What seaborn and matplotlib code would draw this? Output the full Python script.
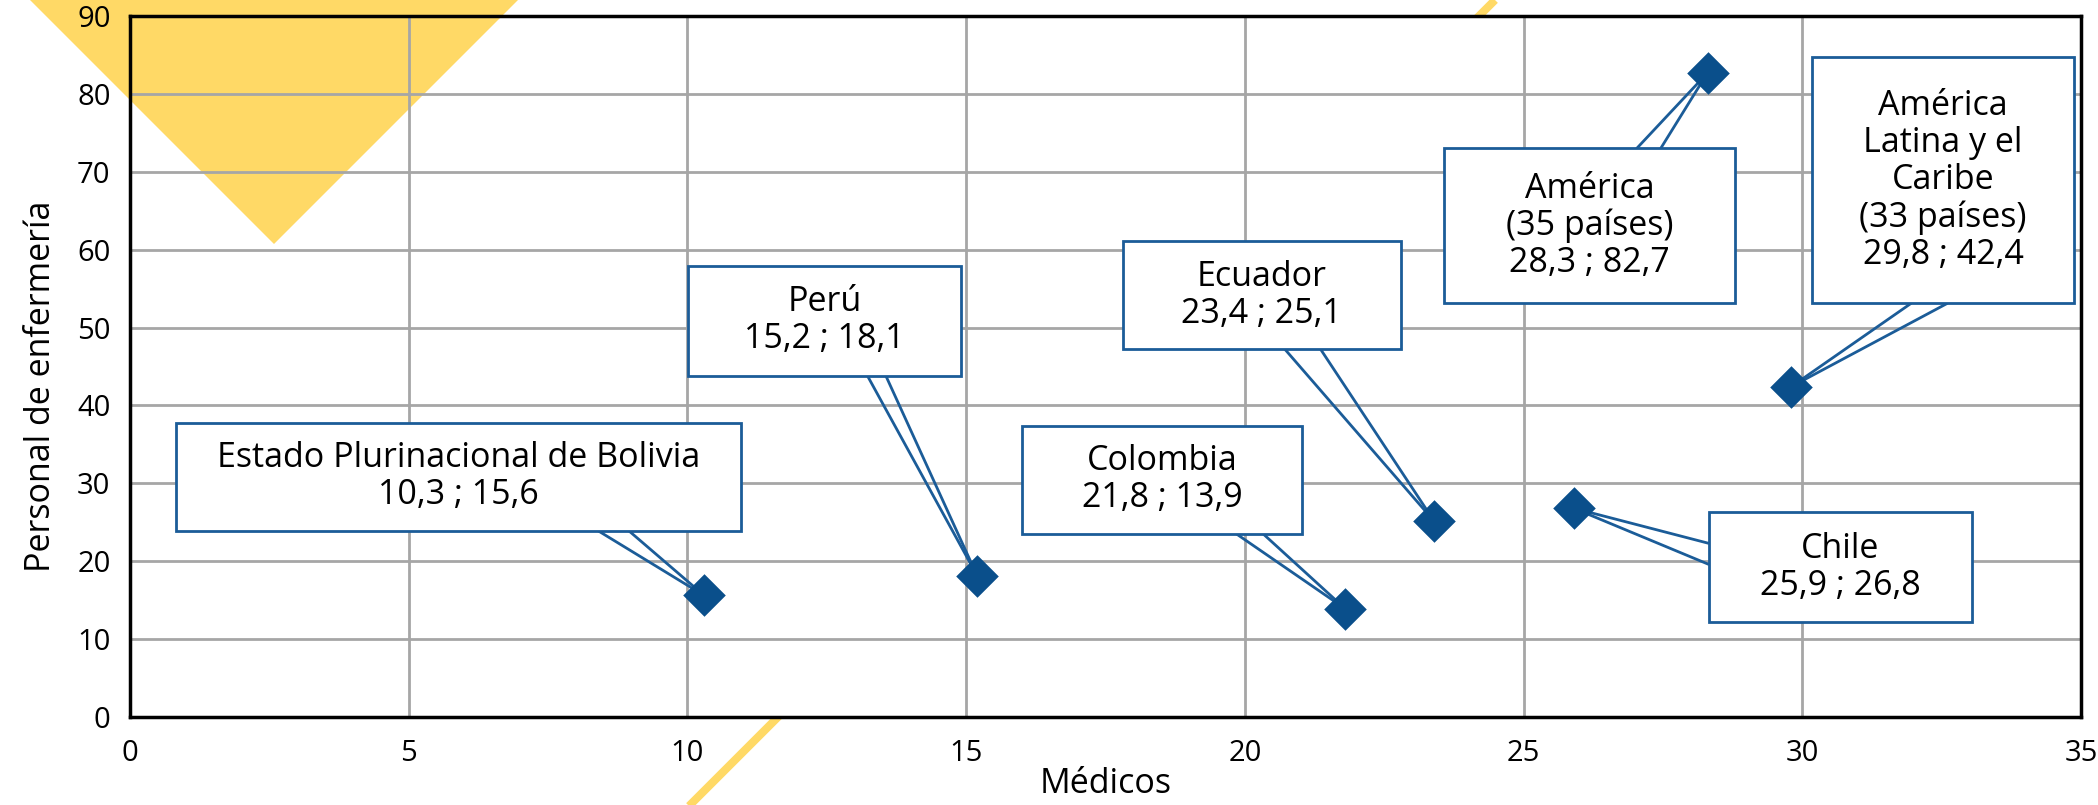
import numpy as np
import pandas as pd
import matplotlib
matplotlib.use("Agg")
import matplotlib.pyplot as plt
from matplotlib.patches import Polygon, Rectangle
from matplotlib.lines import Line2D
import seaborn as sns

# Data: physicians and nursing staff per 10 000 inhabitants
names = ["Estado Plurinacional de Bolivia", "Perú", "Colombia", "Ecuador",
         "Chile", "América\n(35 países)", "América\nLatina y el\nCaribe\n(33 países)"]
medicos = [10.3, 15.2, 21.8, 23.4, 25.9, 28.3, 29.8]
enfermeria = [15.6, 18.1, 13.9, 25.1, 26.8, 82.7, 42.4]
x_ticks = [0, 5, 10, 15, 20, 25, 30, 35]
y_ticks = [0, 10, 20, 30, 40, 50, 60, 70, 80, 90]

# Callout layout: box (x0, x1, y0, y1) in data units, and the two leader anchors on its edge
boxes = [(0.82, 10.97, 23.9, 37.8), (10.01, 14.91, 43.8, 57.9), (16.01, 21.03, 23.5, 37.4),
         (17.81, 22.80, 47.2, 61.1), (28.32, 33.05, 12.2, 26.3), (23.57, 28.80, 53.1, 73.0),
         (30.17, 34.88, 53.1, 84.7)]
anchors = [((8.40, 23.9), (8.95, 23.9)), ((13.23, 43.8), (13.56, 43.8)),
           ((19.85, 23.5), (20.33, 23.5)), ((20.72, 47.2), (21.36, 47.2)),
           ((28.32, 22.3), (28.32, 19.6)), ((27.03, 73.0), (27.46, 73.0)),
           ((31.95, 53.1), (32.60, 53.1))]

BLUE_MARK = "#0A4F8B"
BLUE_EDGE = "#1B5C98"
GOLD = "#FFD966"
GRID = "#A6A6A6"

sns.set_theme(style="white")
plt.rcParams["font.family"] = ["Open Sans", "DejaVu Sans"]

W, H = 2098, 805
fig = plt.figure(figsize=(W / 100, H / 100), dpi=100)
fig.patch.set_facecolor("white")

# Decorative diagonal stripe behind the plot area
stripe = Line2D([1495 / W, 640 / W], [1 - 0 / H, 1 - 855 / H], transform=fig.transFigure,
                color=GOLD, linewidth=5.8, solid_capstyle="butt", zorder=-5)
fig.add_artist(stripe)

ax = fig.add_axes([130 / W, 1 - 717 / H, (2081 - 130) / W, (717 - 16) / H])
ax.set_facecolor("white")

# Decorative inverted triangle in the top-left corner (under the grid)
tri = Polygon([(10 / W, 1 + 20 / H), (538 / W, 1 + 20 / H), (274 / W, 1 - 244 / H)],
              closed=True, transform=fig.transFigure, facecolor=GOLD, edgecolor="none",
              zorder=0.1, clip_on=False)
ax.add_patch(tri)

df = pd.DataFrame({"pais": names, "medicos": medicos, "enfermeria": enfermeria})

ax.set_xlim(0, 35)
ax.set_ylim(0, 90)
ax.set_xticks(x_ticks)
ax.set_yticks(y_ticks)
ax.grid(True, color=GRID, linewidth=2, zorder=0.5)
ax.set_axisbelow(True)
for sp in ax.spines.values():
    sp.set_visible(True)
    sp.set_color("black")
    sp.set_linewidth(2.5)
    sp.set_zorder(6)
ax.tick_params(axis="both", length=0, labelsize=21, colors="black")
ax.tick_params(axis="x", pad=16)
ax.tick_params(axis="y", pad=14)

# Leader wedges and callout boxes
for (bx0, bx1, by0, by1), (a1, a2), x, y in zip(boxes, anchors, medicos, enfermeria):
    for a in (a1, a2):
        ax.plot([a[0], x], [a[1], y], color=BLUE_EDGE, linewidth=2, zorder=3)

sns.scatterplot(data=df, x="medicos", y="enfermeria", marker="D", s=470,
                color=BLUE_MARK, edgecolor=BLUE_MARK, linewidth=0, ax=ax, zorder=5, legend=False)

for (bx0, bx1, by0, by1), name, x, y in zip(boxes, names, medicos, enfermeria):
    ax.add_patch(Rectangle((bx0, by0), bx1 - bx0, by1 - by0, facecolor="white",
                           edgecolor=BLUE_EDGE, linewidth=2, zorder=4))
    label = f"{name}\n{x:.1f} ; {y:.1f}".replace(".", ",")
    ax.text((bx0 + bx1) / 2, (by0 + by1) / 2, label, ha="center", va="center",
            fontsize=24.5, linespacing=1.12, color="black", zorder=4.5)

ax.set_xlabel("Médicos", fontsize=24.5, labelpad=-1, color="black")
ax.set_ylabel("Personal de enfermería", fontsize=24.5, labelpad=14, color="black", y=0.472)

fig.savefig("out.png", dpi=100, facecolor="white")
